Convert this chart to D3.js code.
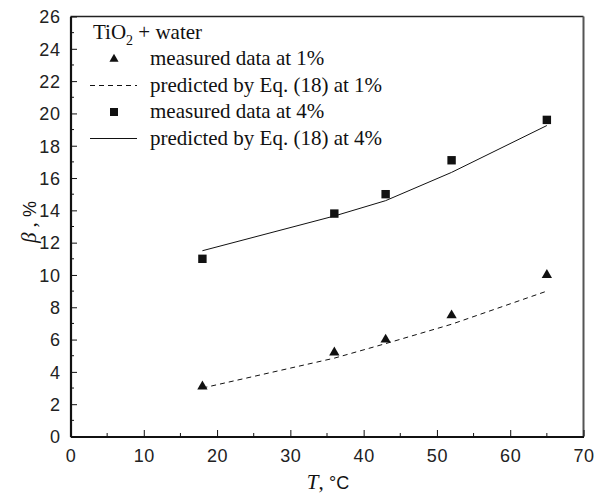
<!DOCTYPE html>
<html>
<head>
<meta charset="utf-8">
<script src="https://cdn.jsdelivr.net/npm/d3@7"></script>
<style>
  html, body { margin: 0; padding: 0; background: #fff; }
  svg { display: block; }
</style>
</head>
<body>
<svg id="chart" width="599" height="496"></svg>
<script>
// ---- data ----
const temps = [18, 36, 43, 52, 65];
const measured1 = [3.1, 5.2, 6.0, 7.5, 10.0];
const predicted1 = [3.0, 4.85, 5.75, 6.95, 9.0];
const measured4 = [11.0, 13.8, 15.0, 17.1, 19.6];
const predicted4 = [11.5, 13.65, 14.6, 16.35, 19.25];
const xTicks = [0, 10, 20, 30, 40, 50, 60, 70];
const yTicks = [0, 2, 4, 6, 8, 10, 12, 14, 16, 18, 20, 22, 24, 26];
const legendTitle = "TiO";
const legendLabels = [
  "measured data at 1%",
  "predicted by Eq. (18) at 1%",
  "measured data at 4%",
  "predicted by Eq. (18) at 4%"
];

// ---- layout ----
const L = 70.5, R = 583.5, T = 16.5, B = 436.5;
const svg = d3.select("#chart");
const x = d3.scaleLinear().domain([0, 70]).range([L, R]);
const y = d3.scaleLinear().domain([0, 26]).range([B, T]);
const sans = "'Liberation Sans', Arial, Helvetica, sans-serif";
const serif = "'Liberation Serif', 'Times New Roman', serif";

// frame (top & right)
svg.append("line").attr("x1", L).attr("x2", R).attr("y1", T).attr("y2", T)
  .attr("stroke", "#222").attr("stroke-width", 1.5);
svg.append("line").attr("x1", R).attr("x2", R).attr("y1", T).attr("y2", B)
  .attr("stroke", "#555").attr("stroke-width", 2);

// minor ticks
const xMinor = d3.range(5, 70, 10);
const yMinor = d3.range(1, 26, 2);
svg.append("g").selectAll("line").data(xMinor).join("line")
  .attr("x1", d => x(d)).attr("x2", d => x(d)).attr("y1", B).attr("y2", B - 3.5)
  .attr("stroke", "#111").attr("stroke-width", 1);
svg.append("g").selectAll("line").data(yMinor).join("line")
  .attr("y1", d => y(d)).attr("y2", d => y(d)).attr("x1", L).attr("x2", L + 3.5)
  .attr("stroke", "#111").attr("stroke-width", 1);

// axes
const xAxis = svg.append("g").attr("transform", `translate(0,${B})`)
  .call(d3.axisBottom(x).tickValues(xTicks).tickSizeInner(-6.5).tickSizeOuter(0).tickPadding(13));
const yAxis = svg.append("g").attr("transform", `translate(${L},0)`)
  .call(d3.axisLeft(y).tickValues(yTicks).tickSizeInner(-6.5).tickSizeOuter(0).tickPadding(10));
[xAxis, yAxis].forEach(g => {
  g.select(".domain").attr("stroke", "#111").attr("stroke-width", 2.2);
  g.selectAll(".tick line").attr("stroke", "#111").attr("stroke-width", 1);
  g.selectAll(".tick text").attr("font-family", sans).attr("font-size", 18)
    .attr("fill", "#222").attr("letter-spacing", 0.6);
});
yAxis.selectAll(".tick text").attr("dy", "0.35em");
xAxis.selectAll(".tick text").attr("dy", "0.71em");

// lines
const line = d3.line().x(d => x(d[0])).y(d => y(d[1]));
svg.append("path").datum(temps.map((t, i) => [t, predicted1[i]]))
  .attr("d", line).attr("fill", "none").attr("stroke", "#111")
  .attr("stroke-width", 1).attr("stroke-dasharray", "5,4");
svg.append("path").datum(temps.map((t, i) => [t, predicted4[i]]))
  .attr("d", line).attr("fill", "none").attr("stroke", "#111").attr("stroke-width", 1);

// markers
const tri = d3.symbol().type(d3.symbolTriangle).size(46);
const sq = 8.4;
svg.append("g").selectAll("path").data(temps.map((t, i) => [t, measured1[i]])).join("path")
  .attr("d", tri).attr("transform", d => `translate(${x(d[0])},${y(d[1])})`).attr("fill", "#111");
svg.append("g").selectAll("rect").data(temps.map((t, i) => [t, measured4[i]])).join("rect")
  .attr("x", d => x(d[0]) - sq / 2).attr("y", d => y(d[1]) - sq / 2)
  .attr("width", sq).attr("height", sq).attr("fill", "#111");

// legend
const lg = svg.append("g");
const tt = lg.append("text").attr("x", 93).attr("y", 38.5)
  .attr("font-family", serif).attr("font-size", 21).attr("fill", "#111");
tt.append("tspan").text(legendTitle);
tt.append("tspan").text("2").attr("font-size", 14).attr("dy", 6);
tt.append("tspan").text(" + water").attr("dy", -6);

const rowY = [65, 91.5, 118, 144.5];
legendLabels.forEach((lab, i) => {
  lg.append("text").attr("x", 150).attr("y", rowY[i])
    .attr("font-family", serif).attr("font-size", 21).attr("fill", "#111").text(lab);
});
const cy = rowY.map(v => v - 6);
lg.append("path").attr("d", d3.symbol().type(d3.symbolTriangle).size(36))
  .attr("transform", `translate(114,${cy[0]})`).attr("fill", "#111");
lg.append("line").attr("x1", 90).attr("x2", 137).attr("y1", cy[1]).attr("y2", cy[1])
  .attr("stroke", "#111").attr("stroke-width", 1).attr("stroke-dasharray", "5,4");
lg.append("rect").attr("x", 114 - 4).attr("y", cy[2] - 4).attr("width", 8).attr("height", 8).attr("fill", "#111");
lg.append("line").attr("x1", 90).attr("x2", 137).attr("y1", cy[3]).attr("y2", cy[3])
  .attr("stroke", "#111").attr("stroke-width", 1);

// axis titles
const xt = svg.append("text").attr("x", 328).attr("y", 489).attr("text-anchor", "middle")
  .attr("fill", "#111");
xt.append("tspan").text("T").attr("font-family", serif).attr("font-style", "italic").attr("font-size", 21);
xt.append("tspan").text(", ").attr("font-family", serif).attr("font-size", 21);
xt.append("tspan").text("°C").attr("font-family", sans).attr("font-size", 18);

const yt = svg.append("text").attr("transform", "translate(36,222) rotate(-90)")
  .attr("text-anchor", "middle").attr("fill", "#111");
yt.append("tspan").text("β").attr("font-family", serif).attr("font-style", "italic").attr("font-size", 21);
yt.append("tspan").text(" , ").attr("font-family", serif).attr("font-size", 21);
yt.append("tspan").text("%").attr("font-family", sans).attr("font-size", 18);
</script>
</body>
</html>
